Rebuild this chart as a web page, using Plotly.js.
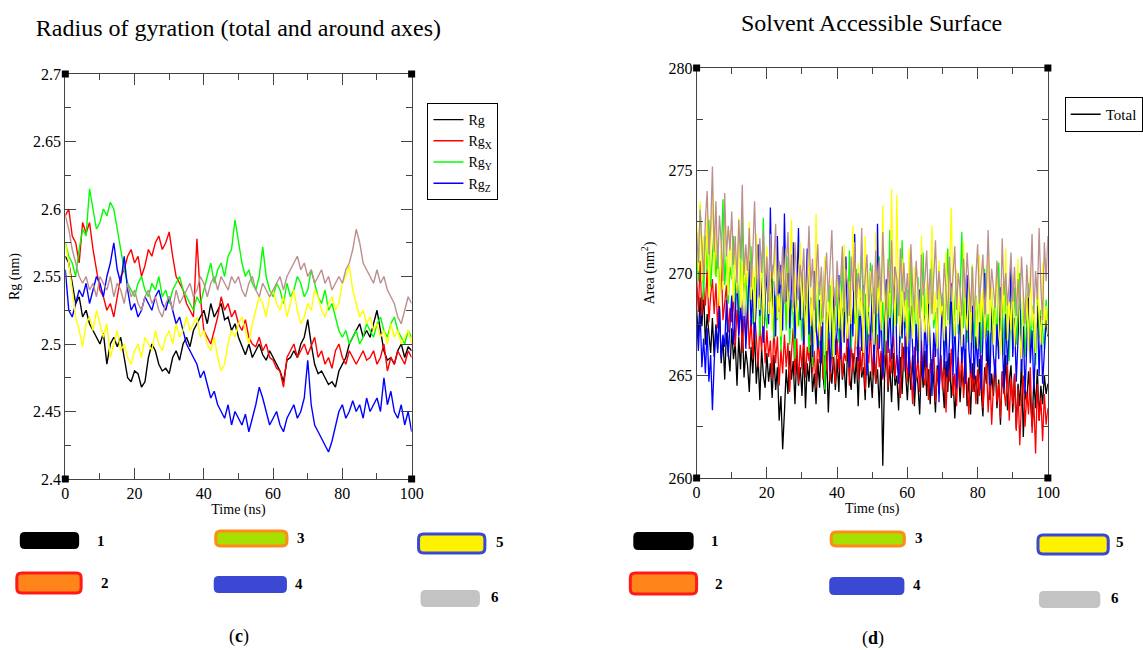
<!DOCTYPE html>
<html>
<head>
<meta charset="utf-8">
<script src="https://cdn.plot.ly/plotly-3.0.1.min.js"></script>
<style>html,body{margin:0;padding:0;background:#fff;}#chart{width:1143px;height:650px;}</style>
</head>
<body>
<div id="chart"></div>
<script>
// ---------- Radius of gyration (nm), one sample per ns, 0..100 ns ----------
const rg1 = [2.565,2.56,2.545,2.53,2.535,2.52,2.525,2.515,2.51,2.505,2.50,2.508,2.485,2.50,2.505,2.498,2.505,2.49,2.475,2.472,2.48,2.478,2.468,2.472,2.49,2.50,2.495,2.485,2.48,2.482,2.478,2.49,2.495,2.488,2.50,2.505,2.498,2.51,2.515,2.52,2.525,2.515,2.53,2.52,2.525,2.53,2.518,2.52,2.51,2.515,2.505,2.498,2.492,2.50,2.49,2.495,2.50,2.492,2.488,2.495,2.49,2.485,2.48,2.472,2.488,2.49,2.495,2.49,2.50,2.505,2.518,2.50,2.485,2.478,2.48,2.475,2.47,2.472,2.468,2.48,2.485,2.49,2.50,2.505,2.51,2.515,2.505,2.51,2.505,2.515,2.525,2.51,2.495,2.488,2.49,2.485,2.495,2.50,2.49,2.498,2.495];
const rg2 = [2.595,2.60,2.58,2.575,2.56,2.59,2.582,2.59,2.57,2.555,2.54,2.535,2.525,2.53,2.52,2.535,2.55,2.555,2.565,2.57,2.56,2.565,2.55,2.558,2.57,2.565,2.575,2.58,2.57,2.575,2.583,2.565,2.55,2.545,2.54,2.53,2.525,2.52,2.578,2.535,2.51,2.505,2.50,2.51,2.52,2.535,2.525,2.53,2.52,2.525,2.515,2.51,2.518,2.505,2.50,2.498,2.505,2.495,2.50,2.49,2.488,2.482,2.48,2.468,2.49,2.495,2.50,2.49,2.495,2.50,2.492,2.498,2.505,2.49,2.495,2.485,2.49,2.482,2.495,2.50,2.49,2.485,2.495,2.49,2.485,2.49,2.495,2.488,2.49,2.495,2.485,2.49,2.50,2.48,2.49,2.485,2.495,2.49,2.485,2.495,2.49];
const rg3 = [2.575,2.565,2.56,2.55,2.57,2.585,2.58,2.615,2.60,2.585,2.59,2.60,2.595,2.605,2.60,2.585,2.57,2.555,2.545,2.54,2.535,2.545,2.55,2.54,2.535,2.545,2.54,2.55,2.535,2.54,2.53,2.54,2.545,2.55,2.54,2.535,2.53,2.525,2.535,2.53,2.54,2.55,2.56,2.545,2.555,2.56,2.55,2.565,2.57,2.592,2.575,2.56,2.55,2.555,2.545,2.54,2.55,2.572,2.55,2.54,2.535,2.545,2.54,2.53,2.545,2.535,2.54,2.55,2.545,2.535,2.54,2.555,2.545,2.535,2.53,2.54,2.525,2.53,2.52,2.51,2.505,2.51,2.50,2.505,2.51,2.50,2.505,2.515,2.51,2.505,2.515,2.52,2.51,2.505,2.515,2.52,2.51,2.505,2.50,2.51,2.505];
const rg4 = [2.555,2.525,2.52,2.53,2.54,2.535,2.545,2.53,2.54,2.55,2.545,2.535,2.55,2.56,2.575,2.555,2.545,2.565,2.54,2.525,2.53,2.52,2.525,2.535,2.53,2.525,2.535,2.54,2.53,2.525,2.535,2.525,2.515,2.52,2.51,2.50,2.495,2.49,2.485,2.475,2.48,2.47,2.46,2.465,2.455,2.45,2.445,2.455,2.44,2.45,2.445,2.44,2.448,2.435,2.445,2.455,2.468,2.46,2.45,2.44,2.445,2.45,2.44,2.435,2.445,2.45,2.455,2.445,2.45,2.46,2.488,2.455,2.44,2.435,2.43,2.425,2.42,2.428,2.44,2.45,2.455,2.445,2.45,2.458,2.45,2.455,2.445,2.46,2.45,2.455,2.46,2.45,2.475,2.455,2.465,2.45,2.445,2.455,2.44,2.45,2.435];
const rg5 = [2.575,2.56,2.54,2.52,2.51,2.498,2.515,2.52,2.51,2.525,2.515,2.505,2.515,2.49,2.50,2.51,2.495,2.50,2.49,2.485,2.495,2.50,2.49,2.505,2.50,2.495,2.51,2.50,2.495,2.505,2.51,2.50,2.515,2.505,2.51,2.52,2.51,2.515,2.52,2.505,2.51,2.50,2.495,2.505,2.49,2.48,2.485,2.50,2.51,2.505,2.515,2.52,2.51,2.50,2.515,2.525,2.535,2.53,2.52,2.535,2.54,2.53,2.525,2.535,2.52,2.53,2.54,2.525,2.515,2.52,2.53,2.525,2.54,2.535,2.525,2.52,2.53,2.535,2.525,2.53,2.545,2.55,2.558,2.54,2.53,2.52,2.525,2.515,2.52,2.51,2.515,2.505,2.51,2.50,2.515,2.505,2.51,2.50,2.505,2.51,2.50];
const rg6 = [2.595,2.585,2.57,2.56,2.55,2.545,2.55,2.54,2.545,2.535,2.55,2.545,2.54,2.55,2.535,2.545,2.54,2.53,2.545,2.535,2.54,2.53,2.525,2.535,2.54,2.53,2.535,2.525,2.52,2.53,2.535,2.525,2.54,2.53,2.535,2.54,2.545,2.535,2.54,2.55,2.545,2.535,2.545,2.55,2.54,2.55,2.545,2.54,2.55,2.545,2.55,2.54,2.535,2.545,2.55,2.54,2.535,2.545,2.54,2.535,2.54,2.545,2.55,2.54,2.55,2.555,2.56,2.565,2.555,2.56,2.55,2.555,2.545,2.55,2.555,2.545,2.55,2.54,2.545,2.55,2.545,2.555,2.56,2.57,2.585,2.575,2.56,2.555,2.55,2.545,2.555,2.545,2.55,2.54,2.535,2.53,2.52,2.515,2.525,2.535,2.53];

// ---------- Solvent accessible surface area (nm^2), one sample per 0.5 ns ----------
const sas1 = [268.2,266.9,268.8,267.4,269.1,266.5,268.0,267.2,266.1,267.8,
265.9,267.5,266.3,268.4,265.6,266.9,264.8,267.1,266.0,265.2,
267.3,265.8,266.6,264.5,266.9,265.3,267.6,264.9,266.2,265.5,
264.2,266.4,265.1,267.2,264.6,265.9,263.8,266.3,265.0,264.4,
266.1,264.7,265.6,263.9,266.0,264.3,265.4,262.8,264.0,261.4,
263.2,265.3,264.1,266.2,264.8,265.7,263.6,266.0,264.5,265.4,
264.0,266.3,263.4,265.6,264.7,266.5,264.2,265.1,263.6,265.8,
264.4,266.6,265.0,264.1,266.2,263.2,265.5,264.6,266.0,264.3,
265.8,264.2,266.9,264.8,265.6,263.9,266.4,265.0,264.3,266.1,
264.6,265.9,263.5,266.2,264.9,265.4,263.8,266.7,264.4,265.2,
263.9,266.0,264.6,265.3,263.4,265.8,260.6,264.9,266.3,264.2,
265.5,263.7,266.1,264.5,265.0,263.3,265.9,264.1,266.4,264.8,
263.8,265.6,264.3,266.0,263.5,265.2,264.6,263.1,265.7,264.4,
266.2,264.0,265.3,263.6,265.8,264.7,263.2,265.5,264.1,266.0,
264.5,263.4,265.7,264.2,266.1,263.9,265.0,262.9,264.8,265.6,
263.7,265.3,264.4,266.3,263.5,264.9,263.1,265.6,264.2,265.0,
263.6,265.8,264.3,263.0,265.4,264.6,266.5,263.8,265.1,264.0,
265.7,263.4,264.8,262.6,265.2,264.1,266.0,263.3,264.7,265.5,
263.2,265.0,262.4,264.6,263.5,265.8,262.0,264.3,263.7,265.2,
263.9,262.5,264.8,263.4,265.3,262.8,264.5,263.6,265.0,264.1,
264.6];
const sas2 = [269.8,268.1,270.6,267.9,269.3,268.4,270.2,267.6,268.9,269.7,
268.0,269.5,267.3,268.8,270.9,267.7,268.6,269.4,267.1,268.3,
267.6,269.0,266.4,268.2,267.0,268.7,266.1,267.9,266.8,268.5,
266.3,267.7,265.8,268.1,266.9,265.4,267.5,266.2,268.0,265.6,
267.2,265.9,266.7,264.8,267.4,265.6,266.9,264.5,266.3,265.1,
267.0,265.4,266.6,264.2,266.1,267.3,265.0,266.8,264.6,266.5,
265.3,267.1,264.9,266.4,265.7,267.6,265.1,266.2,264.4,266.9,
265.6,267.4,264.8,266.0,265.2,267.0,264.7,266.3,265.5,264.6,
266.8,265.3,267.2,264.9,266.1,265.7,267.5,264.5,266.6,265.2,
266.0,267.7,264.8,266.4,265.1,266.9,264.3,266.2,265.6,267.3,
265.0,266.5,264.6,267.0,265.4,266.2,264.8,265.9,266.8,264.4,
266.3,265.1,267.4,264.9,266.0,265.5,263.9,266.6,265.2,266.9,
264.7,266.1,265.3,263.6,266.4,264.8,265.9,264.2,266.7,265.0,
264.5,266.2,263.8,265.6,264.9,266.5,263.7,265.3,264.6,266.0,
264.3,265.8,263.2,265.5,264.7,266.3,264.0,265.1,263.5,265.9,
264.4,266.1,263.9,265.2,264.6,263.1,265.7,264.2,265.4,263.6,
265.3,264.0,266.0,263.4,264.9,265.6,263.2,265.1,262.6,264.5,
265.8,263.7,264.6,262.9,265.2,264.3,263.5,265.5,262.8,264.9,
263.6,265.1,262.3,264.4,261.6,263.8,265.0,262.5,264.2,263.1,
265.4,262.2,263.7,261.2,264.6,262.8,263.9,261.8,264.1,262.6,
263.4];
const sas3 = [271.2,269.6,273.3,270.4,268.7,271.8,270.1,272.6,269.3,270.9,
272.2,269.8,271.5,268.9,270.6,273.6,269.4,271.0,268.5,270.3,
269.7,271.8,268.4,270.5,267.6,269.9,272.9,268.2,270.0,267.9,
269.4,271.3,267.5,269.8,268.3,270.7,266.9,269.1,272.7,268.0,
267.3,269.5,268.6,270.4,266.8,268.9,267.7,270.1,266.2,268.4,
269.6,267.2,270.8,266.5,268.7,267.9,265.8,269.3,267.4,268.8,
266.7,269.0,267.6,270.3,266.1,268.2,265.4,268.9,267.1,269.6,
266.4,268.5,267.0,264.3,268.1,266.8,269.4,265.9,268.3,267.2,
269.8,266.6,268.0,270.4,266.9,268.6,267.4,271.1,266.3,268.2,
267.5,270.2,266.8,268.9,271.3,267.6,269.0,266.4,268.7,270.5,
267.1,269.3,266.5,268.4,270.8,267.2,268.6,266.0,269.5,267.8,
272.1,268.3,266.9,270.0,267.5,269.7,266.6,271.6,268.1,267.3,
269.2,266.8,270.6,267.4,268.9,266.2,269.8,267.7,268.5,271.0,
267.0,269.4,266.5,268.7,270.9,267.3,268.1,266.7,270.3,267.9,
269.0,266.4,268.6,271.2,267.5,269.3,266.8,268.4,270.1,267.0,
268.8,272.0,267.3,269.5,266.6,268.2,267.7,270.4,266.3,268.9,
267.4,269.8,266.1,268.3,270.2,266.9,268.0,265.8,269.1,267.5,
268.7,266.4,270.5,267.2,268.9,266.0,269.6,267.8,265.7,268.4,
267.0,269.3,266.5,268.1,270.0,266.7,268.6,265.9,267.8,269.5,
266.2,268.4,267.1,265.5,269.0,266.8,268.2,267.4,266.3,268.7,
267.6];
const sas4 = [267.9,266.2,268.1,265.4,266.8,265.1,267.3,264.7,266.0,263.3,
265.6,267.4,266.1,268.3,265.8,267.0,266.4,268.7,265.9,267.6,
268.9,266.5,267.8,270.2,266.9,268.4,267.1,269.5,266.3,268.0,
270.6,267.4,269.2,266.8,268.5,271.4,267.9,269.8,266.6,268.7,
270.1,267.5,273.2,268.3,269.6,266.9,271.8,268.1,270.4,267.2,
272.9,268.6,270.0,267.3,269.4,271.5,266.8,268.9,272.2,267.7,
269.8,266.5,268.4,271.2,267.0,268.8,265.9,270.1,267.4,266.3,
268.7,265.6,267.9,270.6,266.4,268.1,265.2,267.5,269.3,266.0,
267.2,269.9,265.8,268.3,266.6,270.8,267.0,265.4,268.6,266.9,
271.9,267.3,265.7,268.8,266.2,269.4,267.6,265.0,268.1,266.7,
269.0,265.5,267.8,272.4,266.3,268.2,264.9,267.4,269.7,266.1,
268.5,265.8,267.2,270.3,266.0,264.6,268.0,266.8,269.1,265.3,
267.5,265.1,268.4,266.3,264.2,267.7,265.6,269.2,266.1,264.8,
267.9,265.4,268.6,266.5,264.0,267.1,265.9,268.3,263.7,266.6,
268.8,265.3,267.4,264.9,266.7,269.5,265.0,267.8,264.4,266.2,
268.1,265.6,267.0,264.6,269.9,266.3,265.1,268.4,264.8,266.9,
265.4,267.6,264.3,266.8,270.0,265.7,267.2,264.5,268.6,266.0,
264.9,267.5,265.8,269.3,266.2,264.4,268.0,265.5,267.1,270.4,
265.9,267.8,264.7,266.5,268.9,265.2,267.4,264.1,266.8,269.0,
265.6,267.2,264.3,266.7,268.4,265.0,267.9,264.6,266.3,267.7,
266.9];
const sas5 = [272.4,270.1,273.5,269.6,271.8,270.3,272.9,268.8,271.2,273.9,
269.9,272.3,270.5,268.4,271.6,269.2,273.0,270.8,268.9,272.1,
270.2,268.6,271.4,269.0,272.7,268.3,270.6,267.9,271.1,269.4,
272.5,268.7,270.3,267.6,271.9,269.1,268.2,270.9,267.4,269.8,
271.3,268.0,270.1,267.2,269.5,271.7,267.8,269.0,266.9,270.4,
268.6,271.2,267.5,269.7,272.6,268.1,270.0,267.3,269.2,271.5,
267.8,269.9,266.9,268.7,271.0,267.4,269.3,266.5,272.9,268.2,
266.7,269.5,267.6,270.8,266.2,268.9,267.1,269.8,265.9,268.4,
270.2,267.3,269.1,266.6,271.4,268.0,266.8,269.6,267.5,272.3,
268.7,266.4,270.5,267.9,269.2,266.1,271.8,268.3,267.0,270.1,
268.9,266.5,272.0,268.0,269.7,267.2,273.3,268.6,266.7,270.4,
267.8,274.1,269.3,267.4,273.8,268.5,266.9,270.7,267.6,269.0,
266.4,271.2,268.1,266.8,270.3,267.5,269.4,266.2,271.8,268.0,
267.1,269.6,266.5,268.8,272.3,267.7,269.1,266.3,270.6,267.9,
268.6,266.7,271.0,267.4,269.8,273.2,268.3,266.9,270.2,267.5,
269.3,266.4,271.5,268.1,267.2,269.7,266.6,270.4,267.9,268.8,
266.3,270.9,267.6,269.2,266.8,268.5,271.7,267.1,269.4,266.5,
268.0,270.6,267.3,266.0,269.5,267.8,271.2,266.7,268.6,267.2,
269.9,266.4,268.3,270.7,267.0,265.8,269.1,267.6,268.9,266.2,
270.3,267.4,268.7,266.1,269.8,267.9,266.5,270.5,267.3,268.4,
267.0];
const sas6 = [272.0,270.5,273.1,271.3,269.8,272.6,274.0,270.9,272.2,275.2,
271.0,273.5,270.2,272.8,271.5,269.6,273.9,270.8,272.3,271.1,
273.0,270.4,271.8,269.5,272.6,270.7,274.3,269.9,271.4,270.1,
272.2,269.3,271.0,273.5,270.3,268.8,271.7,270.0,272.1,269.2,
270.8,268.6,271.9,269.7,270.5,272.4,268.9,270.6,269.4,271.3,
268.5,270.2,272.0,269.1,270.9,268.3,271.5,269.8,268.7,270.4,
269.5,271.2,268.4,270.0,272.3,269.3,270.7,268.2,269.9,271.4,
268.9,270.3,267.8,269.6,271.0,268.6,270.1,272.1,269.0,268.4,
270.6,268.8,269.7,271.3,268.1,270.2,269.4,267.9,270.8,269.1,
271.5,268.7,270.0,269.2,272.2,268.5,269.8,270.9,268.3,269.6,
270.4,268.0,271.1,269.3,270.6,268.6,272.0,269.5,268.2,270.7,
269.0,271.6,268.4,270.3,269.7,267.9,271.2,269.1,270.5,268.7,
270.0,268.3,271.4,269.4,268.1,270.6,269.2,267.8,270.9,268.9,
269.7,271.1,268.5,270.2,268.0,269.6,271.6,268.7,270.1,269.0,
268.4,270.5,269.3,267.7,270.8,268.6,269.9,271.3,268.2,270.0,
269.2,267.9,270.7,268.8,271.0,269.5,268.1,270.3,267.6,269.8,
271.4,268.5,269.6,270.9,268.0,269.3,272.1,268.7,270.2,269.0,
268.3,270.6,269.1,267.8,271.7,268.9,270.0,268.4,269.5,271.0,
268.6,270.3,267.9,269.7,268.2,270.8,269.0,267.5,270.4,268.8,
269.4,271.9,268.0,270.1,268.7,272.2,269.3,267.7,271.5,269.6,
271.8];

const rgSeries = [rg1, rg2, rg3, rg4, rg5, rg6];
const sasSeries = [sas1, sas2, sas3, sas4, sas5, sas6];
const seriesColors = ['#000000', '#FF0000', '#00FF00', '#0000FF', '#FFFF00', '#BC8F8F'];
const rgNames = ['Rg', 'Rg<sub>X</sub>', 'Rg<sub>Y</sub>', 'Rg<sub>Z</sub>', 'Rg 5', 'Rg 6'];
const rgStep = 1.0;   // ns per sample
const sasStep = 0.5;  // ns per sample
const systemLabels = ['1', '2', '3', '4', '5', '6'];

// ---------- build traces ----------
const W = 1143, H = 650;
const FONT = 'Liberation Serif, Times New Roman, serif';
const traces = [];
rgSeries.forEach((ys, k) => {
  traces.push({
    x: ys.map((_, i) => i * rgStep), y: ys, type: 'scatter', mode: 'lines',
    xaxis: 'x', yaxis: 'y', name: rgNames[k], legend: 'legend',
    showlegend: k < 4, line: {color: seriesColors[k], width: 1.4}
  });
});
sasSeries.forEach((ys, k) => {
  traces.push({
    x: ys.map((_, i) => i * sasStep), y: ys, type: 'scatter', mode: 'lines',
    xaxis: 'x2', yaxis: 'y2', name: 'Total', legend: 'legend2',
    showlegend: k === 0, line: {color: seriesColors[k], width: 1.3}
  });
});

// ---------- helpers (pixel -> paper) ----------
const px = v => v / W;
const py = v => 1 - v / H;
function roundRect(x0, y0, x1, y1, r) {
  const P = (x, y) => px(x).toFixed(5) + ',' + py(y).toFixed(5);
  return 'M' + P(x0 + r, y0) + ' L' + P(x1 - r, y0) + ' Q' + P(x1, y0) + ' ' + P(x1, y0 + r) +
    ' L' + P(x1, y1 - r) + ' Q' + P(x1, y1) + ' ' + P(x1 - r, y1) +
    ' L' + P(x0 + r, y1) + ' Q' + P(x0, y1) + ' ' + P(x0, y1 - r) +
    ' L' + P(x0, y0 + r) + ' Q' + P(x0, y0) + ' ' + P(x0 + r, y0) + ' Z';
}
function corner(ax, xa, ya) {
  return {type: 'rect', xref: ax[0] + ' domain', yref: ax[1] + ' domain',
    xsizemode: 'pixel', ysizemode: 'pixel', xanchor: xa, yanchor: ya,
    x0: -3.5, x1: 3.5, y0: -3.5, y1: 3.5, fillcolor: '#000', line: {width: 0}, layer: 'above'};
}

// bottom system key (glyph styles)
const keyStyle = [
  {fill: '#000000', border: null},
  {fill: '#FF8419', border: '#FF1A1A'},
  {fill: '#A6E000', border: '#FF8C1A'},
  {fill: '#3B48D3', border: null},
  {fill: '#FFF200', border: '#3B48D3'},
  {fill: '#C3C3C3', border: null}
];
const keyBoxesL = [[20,532,80,549],[17,573,82,593],[218,531,290,546],[216,576,290,593],[423,534,490,553],[425,590,485,607]];
const keyTextL = [[102,541],[106,583],[304,538],[302,584],[505,542],[500,597]];
const keyBoxesR = [[640,532,701,550],[637,573,704,594],[840,532,914,546],[838,577,914,595],[1049,535,1120,554],[1050,591,1112,608]];
const keyTextR = [[723,541],[727,584],[929,538],[927,585],[1132,542],[1127,598]];

const shapes = [];
const annotations = [];
[[keyBoxesL, keyTextL], [keyBoxesR, keyTextR]].forEach(([boxes, txt]) => {
  boxes.forEach((b, k) => {
    const st = keyStyle[k];
    shapes.push({type: 'path', xref: 'paper', yref: 'paper', path: roundRect(b[0], b[1], b[2], b[3], 5),
      fillcolor: st.fill, line: st.border ? {color: st.border, width: 3} : {width: 0}});
    annotations.push({xref: 'paper', yref: 'paper', x: px(txt[k][0]), y: py(txt[k][1]),
      xanchor: 'center', yanchor: 'middle', showarrow: false, text: '<b>' + systemLabels[k] + '</b>',
      font: {family: FONT, size: 15, color: '#000'}});
  });
});
annotations.push({xref: 'paper', yref: 'paper', x: px(242), y: py(636), xanchor: 'center', yanchor: 'middle',
  showarrow: false, text: '(<b>c</b>)', font: {family: FONT, size: 18, color: '#000'}});
annotations.push({xref: 'paper', yref: 'paper', x: px(882), y: py(638), xanchor: 'center', yanchor: 'middle',
  showarrow: false, text: '(<b>d</b>)', font: {family: FONT, size: 18, color: '#000'}});
annotations.push({xref: 'paper', yref: 'paper', x: px(881), y: py(23), xanchor: 'center', yanchor: 'middle',
  showarrow: false, text: 'Solvent Accessible Surface', font: {family: FONT, size: 24, color: '#000'}});

[['x','y'],['x2','y2']].forEach(ax => {
  shapes.push(corner(ax, 0, 0), corner(ax, 1, 0), corner(ax, 0, 1), corner(ax, 1, 1));
});

function axisBase(extra) {
  return Object.assign({
    showline: true, linecolor: '#444', linewidth: 1, mirror: 'ticks',
    ticks: 'inside', ticklen: 11, tickwidth: 1, tickcolor: '#444',
    showgrid: false, zeroline: false, fixedrange: true,
    tickfont: {family: FONT, size: 16, color: '#000'}
  }, extra);
}

const layout = {
  width: W, height: H, margin: {l: 0, r: 0, t: 0, b: 0},
  paper_bgcolor: '#fff', plot_bgcolor: '#fff',
  font: {family: FONT, color: '#000'},
  title: {text: 'Radius of gyration (total and around axes)', x: px(241), y: py(28),
    xanchor: 'center', yanchor: 'middle', xref: 'paper', yref: 'paper',
    font: {family: FONT, size: 24, color: '#000'}},
  xaxis: axisBase({domain: [px(66), px(416)], range: [0, 100], dtick: 20, anchor: 'y',
    minor: {dtick: 10, ticks: 'inside', ticklen: 6, tickcolor: '#444'},
    title: {text: 'Time (ns)', standoff: 0, font: {family: FONT, size: 14}}}),
  yaxis: axisBase({domain: [py(479), py(74)], range: [2.4, 2.7], dtick: 0.05, anchor: 'x',
    minor: {dtick: 0.025, ticks: 'inside', ticklen: 6, tickcolor: '#444'},
    title: {text: 'Rg (nm)', standoff: 10, font: {family: FONT, size: 14}}}),
  xaxis2: axisBase({domain: [px(704), px(1059)], range: [0, 100], dtick: 20, anchor: 'y2',
    minor: {dtick: 10, ticks: 'inside', ticklen: 6, tickcolor: '#444'},
    title: {text: 'Time (ns)', standoff: 0, font: {family: FONT, size: 14}}}),
  yaxis2: axisBase({domain: [py(478), py(68)], range: [260, 280], dtick: 5, anchor: 'x2',
    minor: {dtick: 2.5, ticks: 'inside', ticklen: 6, tickcolor: '#444'},
    title: {text: 'Area (nm<sup>2</sup>)', standoff: 10, font: {family: FONT, size: 14}}}),
  legend: {x: px(432), y: py(103), xanchor: 'left', yanchor: 'top', bgcolor: '#fff',
    bordercolor: '#000', borderwidth: 1, itemwidth: 30, tracegroupgap: 0,
    font: {family: FONT, size: 14, color: '#000'}},
  legend2: {x: px(1076), y: py(97), xanchor: 'left', yanchor: 'top', bgcolor: '#fff',
    bordercolor: '#000', borderwidth: 1, itemwidth: 30,
    font: {family: FONT, size: 15, color: '#000'}},
  shapes: shapes, annotations: annotations, showlegend: true
};

Plotly.newPlot('chart', traces, layout, {staticPlot: true, displayModeBar: false});
</script>
</body>
</html>
